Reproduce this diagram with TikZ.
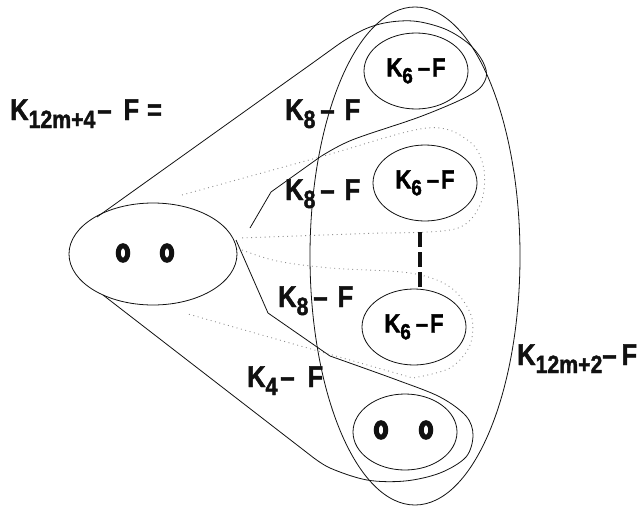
\documentclass[tikz,border=0pt]{standalone}
\usepackage{fontspec}
\usetikzlibrary{shapes.geometric}
\newfontfamily\lblfont[FakeStretch=0.85,FakeBold=1.6,UprightFont={* Bold}]{Liberation Sans}
\definecolor{ink}{HTML}{111111}
\definecolor{dotgrey}{HTML}{8C8C8C}
\newcommand{\idx}[1]{\raisebox{-8pt}{\fontsize{25}{25}\selectfont #1}}
\newcommand{\smallidx}[1]{\raisebox{-7pt}{\fontsize{22}{22}\selectfont #1}}

\begin{document}
\begin{tikzpicture}[x=1pt,y=-1pt,
    rim/.style={ink,line width=0.8pt,line join=round},
    tube/.style={dotgrey,line width=0.9pt,dash pattern=on 0.9pt off 3.6pt},
    part/.style={draw=ink,line width=0.8pt,ellipse,inner sep=0pt,minimum width=104pt,minimum height=76pt,
      font=\lblfont\fontsize{26}{28}\selectfont},
    lbl/.style={color=ink,inner sep=0pt,anchor=base west,font=\lblfont\fontsize{30}{32}\selectfont},
    vtx/.style={ink,line width=5pt}]
  \useasboundingbox (0,0) rectangle (642,506);
  % outer sets
  \node[draw=ink,line width=0.8pt,ellipse,inner sep=0pt,minimum width=210pt,minimum height=498pt] (whole) at (415,256) {};
  \node[draw=ink,line width=0.8pt,ellipse,inner sep=0pt,minimum width=168pt,minimum height=102pt] (base) at (153,254) {};
  % K6 - F blocks and the last pair
  \node[part] (blockA) at (416,71) {K\smallidx{6}\hspace{5pt}–\hspace{2pt}F};
  \node[part] (blockB) at (425,183) {K\smallidx{6}\hspace{5pt}–\hspace{2pt}F};
  \node[part] (blockC) at (414,327) {K\smallidx{6}\hspace{5pt}–\hspace{2pt}F};
  \node[part] (pair) at (405,432) {};
  \foreach \vx in {123,167} \draw[vtx] (\vx,253) ellipse [x radius=4.75pt,y radius=7.25pt];
  \foreach \vx in {381,426} \draw[vtx] (\vx,430) ellipse [x radius=4.75pt,y radius=7.25pt];
  % upper K8 tube round the first block
  \draw[rim] plot[smooth,tension=0.55] coordinates {(97,217) (300,72) (350,37) (380,24) (413,21) (445,29)
    (469,44) (483,62) (486,78) (472,94) (422,116) (352,140) (320,157)} -- (271,192) -- (250,228);
  % K4 tube round the pair
  \draw[rim] (236,240) -- (268,313) -- plot[smooth,tension=0.55] coordinates {(330,356) (397,380) (440,397)
    (466,416) (473,435) (466,457) (440,473) (405,481) (367,480) (330,468) (310,455)} -- (103,295);
  % dotted K8 tubes
  \draw[tube] plot[smooth,tension=0.55] coordinates {(182,195) (320,157) (427,128) (470,142) (484,170)
    (480,205) (455,229) (380,233)} -- (240,238);
  \draw[tube] plot[smooth,tension=0.55] coordinates {(242,250) (277,261) (330,268) (410,273) (450,287)
    (471,315) (470,345) (450,368) (413,378)} -- (188,314);
  % elided blocks
  \draw[ink,line width=4pt,dash pattern=on 15pt off 5pt] (420,232) -- (420,287);
  % labels
  \node[lbl] (lhs) at (10,120) {K\idx{12m+4}\hspace{2pt}–\hspace{12pt}F\hspace{8pt}=};
  \node[lbl] (tubeA) at (285,120) {K\idx{8}\hspace{5pt}–\hspace{10pt}F};
  \node[lbl] (tubeB) at (285,200) {K\idx{8}\hspace{5pt}–\hspace{10pt}F};
  \node[lbl] (tubeC) at (278,307) {K\idx{8}\hspace{5pt}–\hspace{10pt}F};
  \node[lbl] (tubeD) at (247,387) {K\idx{4}\hspace{3pt}–\hspace{13pt}F};
  \node[lbl] (rhs) at (517,365) {K\idx{12m+2}–\hspace{5pt}F};
\end{tikzpicture}
\end{document}
